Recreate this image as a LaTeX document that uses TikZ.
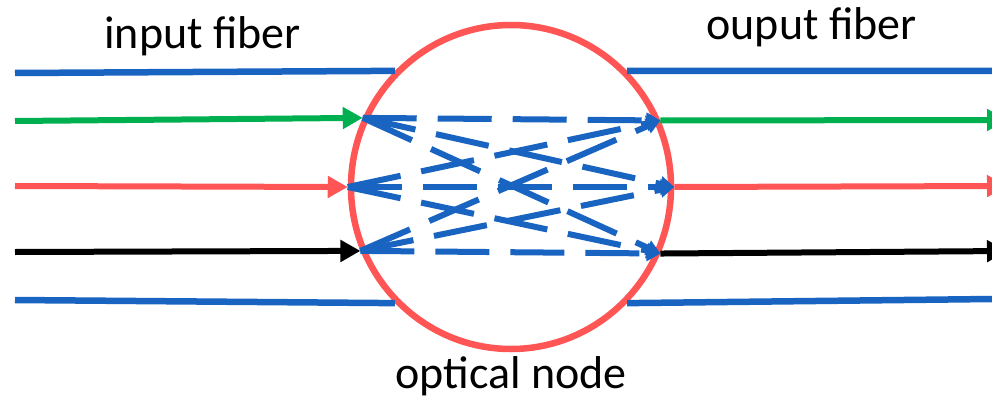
\documentclass[tikz,border=0pt]{standalone}
\usepackage{fontspec}
\setmainfont{Carlito}
\usetikzlibrary{arrows.meta,shapes.geometric}
\definecolor{fblue}{RGB}{24,100,192}
\definecolor{fgreen}{RGB}{0,176,80}
\definecolor{fred}{RGB}{255,85,85}
\tikzset{
  lbl/.style={anchor=base,inner sep=0pt,font=\fontsize{46}{55}\selectfont},
  fiber/.style={line width=6.5pt,draw=fblue},
  sig/.style={line width=6pt,-{Triangle[length=20pt,width=21pt]}},
  xline/.style={line width=6pt,draw=fblue,dash pattern=on 54pt off 21pt,
    -{Triangle[length=14pt,width=15pt]}},
  onode/.style={ellipse,draw=fred,line width=6.5pt,minimum width=320pt,minimum height=324pt,inner sep=0pt}
}
\begin{document}
\begin{tikzpicture}[x=1pt,y=-1pt]
\useasboundingbox (0,0) rectangle (992,401);
\node[onode] (on) at (511,187) {};
% entry / exit points on the node border
\coordinate (bTL) at (on.135);
\coordinate (bTR) at (on.45);
\coordinate (bBL) at (on.225);
\coordinate (bBR) at (on.315);
\coordinate (gL) at (on.155.7);
\coordinate (gR) at (on.24.3);
\coordinate (rL) at (on.180);
\coordinate (rR) at (on.0);
\coordinate (kL) at (on.203.5);
\coordinate (kR) at (on.336.5);
% outer ends
\coordinate (bTa) at (15,73);
\coordinate (bTb) at (992,71);
\coordinate (bBa) at (15,300);
\coordinate (bBb) at (992,299);
\coordinate (ga) at (15,121);
\coordinate (gb) at (1007,120);
\coordinate (ra) at (15,186);
\coordinate (rb) at (1007,186);
\coordinate (ka) at (15,252);
\coordinate (kb) at (1007,251);
% labels
\node[lbl] (tin) at (202.5,49) {input fiber};
\node[lbl] (tout) at (811.5,40) {ouput fiber};
\node[lbl] (tnode) at (511,388) {optical node};
% fibers
\draw[fiber] (bTa) -- (bTL);
\draw[fiber] (bTR) -- (bTb);
\draw[fiber] (bBa) -- (bBL);
\draw[fiber] (bBR) -- (bBb);
\draw[sig,draw=fgreen] (ga) -- (gL);
\draw[sig,draw=fgreen] (gR) -- (gb);
\draw[sig,draw=fred] (ra) -- (rL);
\draw[sig,draw=fred] (rR) -- (rb);
\draw[sig,draw=black] (ka) -- (kL);
\draw[sig,draw=black] (kR) -- (kb);
% switching paths
\foreach \a in {gL,rL,kL}
  \foreach \b in {gR,rR,kR}
    \draw[xline] (\a) -- (\b);
\end{tikzpicture}
\end{document}
